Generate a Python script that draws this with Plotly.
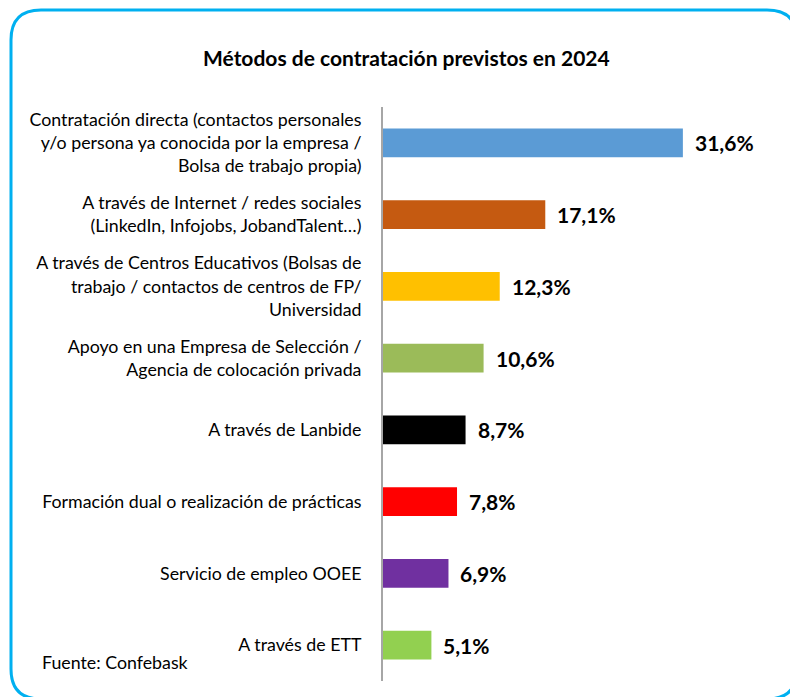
import plotly.graph_objects as go

categories = [
    "Contratación directa (contactos personales<br>y/o persona ya conocida por la empresa /<br>Bolsa de trabajo propia)",
    "A través de Internet / redes sociales<br>(LinkedIn, Infojobs, JobandTalent…)",
    "A través de Centros Educativos (Bolsas de<br>trabajo / contactos de centros de FP/<br>Universidad",
    "Apoyo en una Empresa de Selección /<br>Agencia de colocación privada",
    "A través de Lanbide",
    "Formación dual o realización de prácticas",
    "Servicio de empleo OOEE",
    "A través de ETT",
]
values = [31.6, 17.1, 12.3, 10.6, 8.7, 7.8, 6.9, 5.1]
colors = ["#5B9BD5", "#C55A11", "#FFC000", "#9BBB59", "#000000", "#FF0000", "#7030A0", "#92D050"]
labels = [f"{v:.1f}".replace(".", ",") + "%" for v in values]

W, H = 790, 697
L, R, T, B = 383, 28, 107, 16
PW, PH = W - L - R, H - T - B

def px(x):
    return (x - L) / PW

def py(y):
    return 1 - (y - T) / PH

FONT = "Lato, Open Sans, sans-serif"

fig = go.Figure(go.Bar(
    x=values, y=categories, orientation="h",
    marker=dict(color=colors, line=dict(width=0)),
    width=0.4,
))

for c, v, t in zip(categories, values, labels):
    fig.add_annotation(x=v, y=c, text=f"<b>{t}</b>", showarrow=False,
                       xanchor="left", xshift=10,
                       font=dict(size=21, color="#000000", family=FONT))

# rounded border
x0, y0, x1, y1, r = 11, 10, 797, 699, 30
path = (f"M {px(x0 + r)} {py(y0)} L {px(x1 - r)} {py(y0)} "
        f"Q {px(x1)} {py(y0)} {px(x1)} {py(y0 + r)} "
        f"L {px(x1)} {py(y1 - r)} Q {px(x1)} {py(y1)} {px(x1 - r)} {py(y1)} "
        f"L {px(x0 + r)} {py(y1)} Q {px(x0)} {py(y1)} {px(x0)} {py(y1 - r)} "
        f"L {px(x0)} {py(y0 + r)} Q {px(x0)} {py(y0)} {px(x0 + r)} {py(y0)} Z")
fig.add_shape(type="path", path=path, xref="paper", yref="paper",
              line=dict(color="#00B0F0", width=3), layer="above")

fig.add_annotation(x=px(406), y=py(58), xref="paper", yref="paper",
                   text="<b>Métodos de contratación previstos en 2024</b>",
                   showarrow=False, xanchor="center", yanchor="middle",
                   font=dict(size=21, color="#000000", family=FONT))
fig.add_annotation(x=px(40), y=py(662), xref="paper", yref="paper",
                   text="Fuente: Confebask", showarrow=False,
                   xanchor="left", yanchor="middle",
                   font=dict(size=17.8, color="#000000", family=FONT))

fig.update_layout(
    width=W, height=H,
    margin=dict(l=L, r=R, t=T, b=B, pad=0),
    paper_bgcolor="white", plot_bgcolor="white",
    showlegend=False,
    xaxis=dict(range=[0, PW / 9.49], visible=False, fixedrange=True),
    yaxis=dict(autorange="reversed", showline=True, linecolor="#A6A6A6", linewidth=2,
               ticks="", ticklabelstandoff=16, showgrid=False, fixedrange=True,
               tickfont=dict(size=17.8, color="#000000", family=FONT)),
    font=dict(family=FONT),
)

fig.write_html("out.html", config={"displayModeBar": False},
               post_script="document.body.style.margin='0';")
